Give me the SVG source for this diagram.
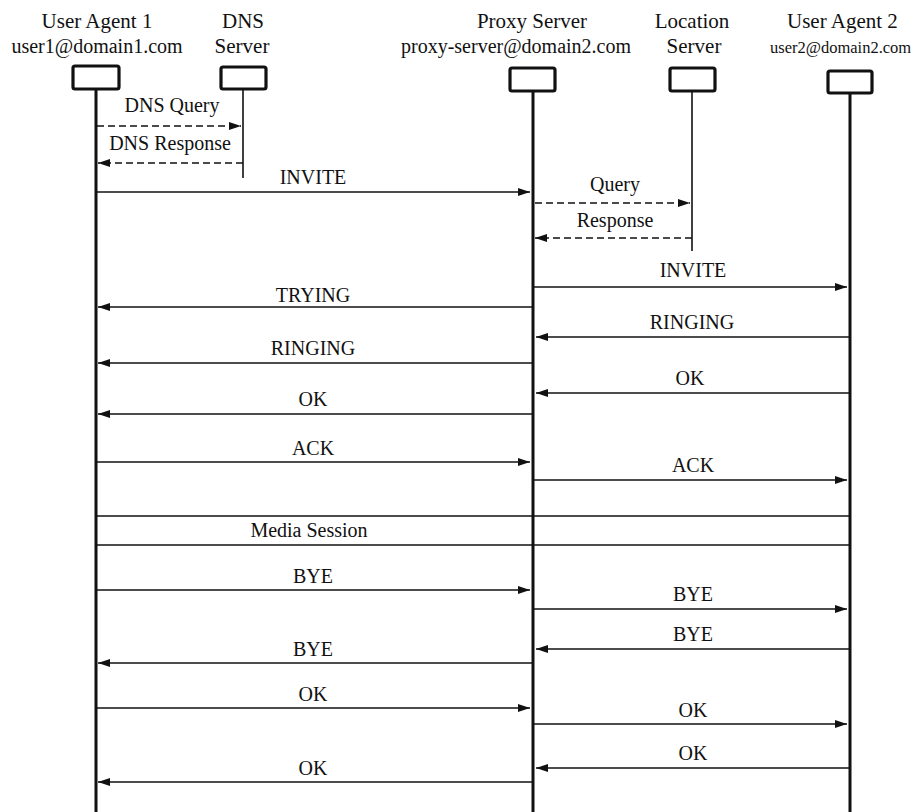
<svg xmlns="http://www.w3.org/2000/svg" width="919" height="812" viewBox="0 0 919 812">
<style>
.hdr{font-family:"Liberation Serif",serif;font-size:21px;fill:#111;text-anchor:middle}
.sub{font-family:"Liberation Serif",serif;font-size:20px;fill:#111;text-anchor:middle}
.lbl{font-family:"Liberation Serif",serif;font-size:20px;fill:#111;text-anchor:middle}
.box{fill:#fff;stroke:#111;stroke-width:3.2}
.life{stroke:#111;stroke-width:3}
.lifet{stroke:#111;stroke-width:1.6}
.msg{stroke:#111;stroke-width:1.6;fill:none}
.dash{stroke-dasharray:7 4}
.med{stroke:#111;stroke-width:1.3}
</style>
<defs>
<marker id="ah" viewBox="0 0 12 8" refX="12" refY="4" markerWidth="12" markerHeight="8" markerUnits="userSpaceOnUse" orient="auto">
<path d="M0,0 L12,4 L0,8 Z" fill="#111"/>
</marker>
</defs>
<rect width="919" height="812" fill="#fff"/>
<g id="ua1">
<text class="hdr" x="97" y="28">User Agent 1</text>
<text class="sub" x="97" y="53">user1@domain1.com</text>
<rect class="box" x="73" y="66" width="46" height="23" rx="2"/>
<line class="life" x1="96" y1="89" x2="96" y2="812"/>
</g>
<g id="dns">
<text class="hdr" x="243" y="28">DNS</text>
<text class="hdr" x="242" y="53">Server</text>
<rect class="box" x="221" y="67" width="45" height="22" rx="2"/>
<line class="lifet" x1="243" y1="89" x2="243" y2="178"/>
</g>
<g id="proxy">
<text class="hdr" x="532" y="28">Proxy Server</text>
<text class="sub" x="516" y="53">proxy-server@domain2.com</text>
<rect class="box" x="510" y="68" width="45" height="23" rx="2"/>
<line class="life" x1="533" y1="91" x2="533" y2="812"/>
</g>
<g id="loc">
<text class="hdr" x="692" y="28">Location</text>
<text class="hdr" x="694" y="53">Server</text>
<rect class="box" x="670" y="68" width="45" height="23" rx="2"/>
<line class="lifet" x1="692" y1="91" x2="692" y2="251"/>
</g>
<g id="ua2">
<text class="hdr" x="787" y="28" style="text-anchor:start">User Agent 2</text>
<text class="sub" x="770" y="53" style="text-anchor:start;font-size:16.5px">user2@domain2.com</text>
<rect class="box" x="828" y="71" width="44" height="22" rx="2"/>
<line class="life" x1="850" y1="93" x2="850" y2="812"/>
</g>
<g id="connectors">
<line class="msg dash" x1="97" y1="126" x2="241" y2="126" marker-end="url(#ah)"/>
<text class="lbl" x="172" y="112">DNS Query</text>
<line class="msg dash" x1="243" y1="163" x2="98" y2="163" marker-end="url(#ah)"/>
<text class="lbl" x="170" y="150">DNS Response</text>
<line class="msg" x1="97" y1="192" x2="530" y2="192" marker-end="url(#ah)"/>
<text class="lbl" x="313" y="184">INVITE</text>
<line class="msg dash" x1="535" y1="203" x2="690" y2="203" marker-end="url(#ah)"/>
<text class="lbl" x="615" y="191">Query</text>
<line class="msg dash" x1="692" y1="238" x2="535" y2="238" marker-end="url(#ah)"/>
<text class="lbl" x="615" y="227">Response</text>
<line class="msg" x1="534" y1="287" x2="847" y2="287" marker-end="url(#ah)"/>
<text class="lbl" x="693" y="277">INVITE</text>
<line class="msg" x1="532" y1="307" x2="98" y2="307" marker-end="url(#ah)"/>
<text class="lbl" x="313" y="302">TRYING</text>
<line class="msg" x1="849" y1="337" x2="536" y2="337" marker-end="url(#ah)"/>
<text class="lbl" x="692" y="329">RINGING</text>
<line class="msg" x1="532" y1="363" x2="98" y2="363" marker-end="url(#ah)"/>
<text class="lbl" x="313" y="355">RINGING</text>
<line class="msg" x1="849" y1="393" x2="536" y2="393" marker-end="url(#ah)"/>
<text class="lbl" x="690" y="385">OK</text>
<line class="msg" x1="532" y1="414" x2="98" y2="414" marker-end="url(#ah)"/>
<text class="lbl" x="313" y="406">OK</text>
<line class="msg" x1="97" y1="462" x2="530" y2="462" marker-end="url(#ah)"/>
<text class="lbl" x="313" y="455">ACK</text>
<line class="msg" x1="534" y1="480" x2="847" y2="480" marker-end="url(#ah)"/>
<text class="lbl" x="693" y="472">ACK</text>
<line class="med" x1="96" y1="516" x2="850" y2="516"/>
<line class="med" x1="96" y1="545" x2="850" y2="545"/>
<text class="lbl" x="309" y="537">Media Session</text>
<line class="msg" x1="97" y1="590" x2="530" y2="590" marker-end="url(#ah)"/>
<text class="lbl" x="313" y="583">BYE</text>
<line class="msg" x1="534" y1="609" x2="847" y2="609" marker-end="url(#ah)"/>
<text class="lbl" x="693" y="601">BYE</text>
<line class="msg" x1="849" y1="649" x2="536" y2="649" marker-end="url(#ah)"/>
<text class="lbl" x="693" y="641">BYE</text>
<line class="msg" x1="532" y1="663" x2="98" y2="663" marker-end="url(#ah)"/>
<text class="lbl" x="313" y="656">BYE</text>
<line class="msg" x1="97" y1="708" x2="530" y2="708" marker-end="url(#ah)"/>
<text class="lbl" x="313" y="701">OK</text>
<line class="msg" x1="534" y1="724" x2="847" y2="724" marker-end="url(#ah)"/>
<text class="lbl" x="693" y="717">OK</text>
<line class="msg" x1="849" y1="768" x2="536" y2="768" marker-end="url(#ah)"/>
<text class="lbl" x="693" y="760">OK</text>
<line class="msg" x1="532" y1="782" x2="98" y2="782" marker-end="url(#ah)"/>
<text class="lbl" x="313" y="775">OK</text>
</g>
</svg>
